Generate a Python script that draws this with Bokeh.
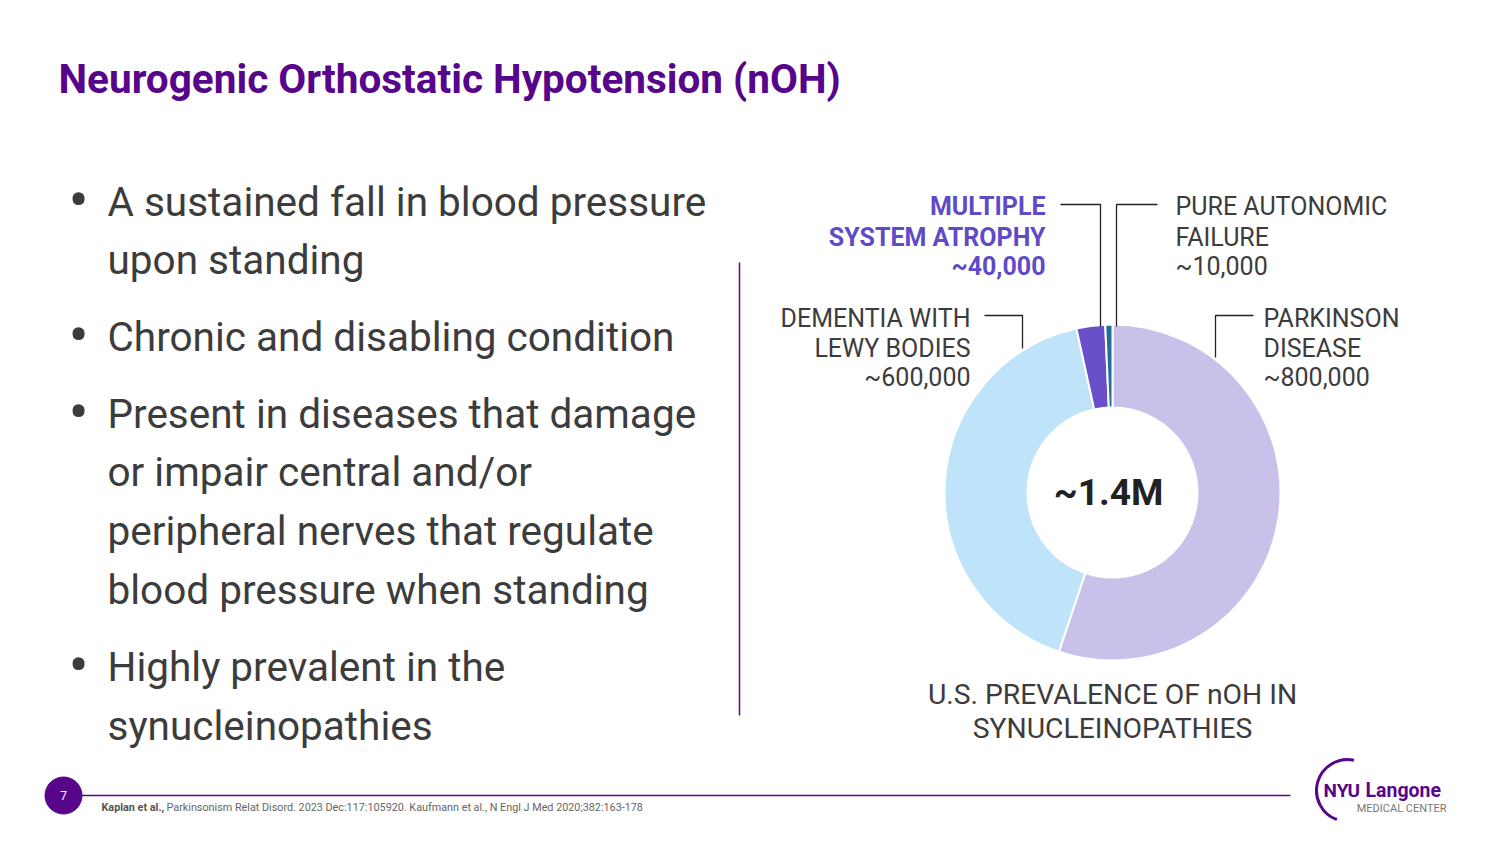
from bokeh.plotting import figure
from bokeh.models import Range1d
from bokeh.core.properties import value
from bokeh.embed import file_html
from bokeh.resources import INLINE
import numpy as np

# ---- data ----
cat_order = ["Parkinson disease", "Dementia with Lewy bodies", "Multiple system atrophy", "Pure autonomic failure"]
prevalence = {"Parkinson disease": 800000, "Dementia with Lewy bodies": 600000,
              "Multiple system atrophy": 40000, "Pure autonomic failure": 10000}
colors = {"Parkinson disease": "#c9c1ea", "Dementia with Lewy bodies": "#bfe4fa",
          "Multiple system atrophy": "#6a4fcb", "Pure autonomic failure": "#1f6f9a"}
center_label = "~1.4M"
title = "Neurogenic Orthostatic Hypotension (nOH)"
bullets = [["A sustained fall in blood pressure", "upon standing"],
           ["Chronic and disabling condition"],
           ["Present in diseases that damage", "or impair central and/or",
            "peripheral nerves that regulate", "blood pressure when standing"],
           ["Highly prevalent in the", "synucleinopathies"]]
caption = ["U.S. PREVALENCE OF nOH IN", "SYNUCLEINOPATHIES"]

W, H = 1484, 828
def Y(py):  # page pixel y -> data y
    return H - py
def X(px):
    return px

p = figure(width=W, height=H, x_range=Range1d(0, W), y_range=Range1d(0, H),
           output_backend="svg", toolbar_location=None, min_border=0)
p.axis.visible = False
p.grid.visible = False
p.outline_line_color = None
p.background_fill_color = "white"
p.border_fill_color = "white"

FONT = value("Roboto")
PURPLE = "#57068c"
DARK = "#3c3c3c"

# title
p.text(x=[X(58)], y=[Y(78)], text=[title], text_font=FONT, text_font_style="bold",
       text_font_size="40.5px", text_color=PURPLE, text_baseline="middle")

# bullets
mids = [[201, 259], [336], [413, 471, 530, 589], [666, 725]]
for lines, ms in zip(bullets, mids):
    p.text(x=[X(78)], y=[Y(ms[0] - 1)], text=["•"], text_font=FONT, text_font_size="60px",
           text_color=DARK, text_baseline="middle", text_align="center")
    p.text(x=[X(107)] * len(lines), y=[Y(m) for m in ms], text=lines, text_font=FONT,
           text_font_size="40.5px", text_color=DARK, text_baseline="middle")

# divider
p.line(x=[X(739), X(739)], y=[Y(262), Y(715)], line_color=PURPLE, line_width=1.5)

# donut
cx, cy = X(1112), Y(492)
vals = np.array([prevalence[c] for c in cat_order], dtype=float)
frac = vals / vals.sum()
cum = np.concatenate([[0], np.cumsum(frac)])
starts = np.pi / 2 - cum[:-1] * 2 * np.pi
ends = np.pi / 2 - cum[1:] * 2 * np.pi
p.annular_wedge(x=cx, y=cy, inner_radius=85, outer_radius=168,
                start_angle=list(starts), end_angle=list(ends), direction="clock",
                fill_color=[colors[c] for c in cat_order], line_color="white", line_width=2)
p.text(x=[cx - 4], y=[cy], text=[center_label], text_font=FONT, text_font_style="bold",
       text_font_size="37px", text_color="#222222", text_align="center", text_baseline="middle")

# labels
LBL = "25px"
def label(xp, ms, lines, align, color, style="normal"):
    p.text(x=[X(xp)] * len(lines), y=[Y(m) for m in ms], text=lines, text_font=FONT,
           text_font_size=LBL, text_color=color, text_align=align, text_baseline="middle",
           text_font_style=style)

label(1045, [206, 237, 266], ["MULTIPLE", "SYSTEM ATROPHY", "~%s" % f"{prevalence['Multiple system atrophy']:,}"],
      "right", "#5f4bc6", "bold")
label(1175, [206, 237, 266], ["PURE AUTONOMIC", "FAILURE", "~%s" % f"{prevalence['Pure autonomic failure']:,}"],
      "left", DARK)
label(970, [318, 348, 377], ["DEMENTIA WITH", "LEWY BODIES", "~%s" % f"{prevalence['Dementia with Lewy bodies']:,}"],
      "right", DARK)
label(1263, [318, 348, 377], ["PARKINSON", "DISEASE", "~%s" % f"{prevalence['Parkinson disease']:,}"],
      "left", DARK)

# leader lines
leaders = [[(1060, 204), (1100, 204), (1100, 326)],
           [(1157, 204), (1116, 204), (1116, 326)],
           [(984, 315), (1022, 315), (1022, 348)],
           [(1253, 315), (1215, 315), (1215, 357)]]
for pts in leaders:
    p.line(x=[X(a) for a, b in pts], y=[Y(b) for a, b in pts], line_color="#222222", line_width=1.3)

# caption
p.text(x=[X(1112)] * 2, y=[Y(694), Y(728)], text=caption, text_font=FONT, text_font_size="28.3px",
       text_color=DARK, text_align="center", text_baseline="middle")

# footer
p.line(x=[X(80), X(1290)], y=[Y(795), Y(795)], line_color=PURPLE, line_width=1.5)
p.scatter(x=[X(63)], y=[Y(795)], size=37, fill_color=PURPLE, line_color=PURPLE)
p.text(x=[X(63)], y=[Y(795)], text=["7"], text_font=FONT, text_font_size="12px",
       text_color="white", text_align="center", text_baseline="middle")
p.text(x=[X(101)], y=[Y(807)], text=["Kaplan et al.,"], text_font=FONT, text_font_size="10.8px",
       text_font_style="bold", text_color="#555555", text_baseline="middle")
p.text(x=[X(166)], y=[Y(807)],
       text=["Parkinsonism Relat Disord. 2023 Dec:117:105920.  Kaufmann et al., N Engl J Med 2020;382:163-178"],
       text_font=FONT, text_font_size="10.8px", text_color="#666666", text_baseline="middle")

# logo
p.arc(x=X(1347), y=Y(790), radius=31, start_angle=np.radians(78), end_angle=np.radians(250),
      line_color=PURPLE, line_width=3)
p.text(x=[X(1323)], y=[Y(790)], text=["NYU"], text_font=FONT, text_font_style="bold",
       text_font_size="19px", text_color=PURPLE, text_baseline="middle")
p.text(x=[X(1365)], y=[Y(790)], text=["Langone"], text_font=FONT, text_font_style="bold",
       text_font_size="19.5px", text_color=PURPLE, text_baseline="middle")
p.text(x=[X(1446)], y=[Y(808)], text=["MEDICAL CENTER"], text_font=FONT,
       text_font_size="11px", text_color="#777777", text_align="right", text_baseline="middle")

open("out.html", "w").write(file_html(p, INLINE))
